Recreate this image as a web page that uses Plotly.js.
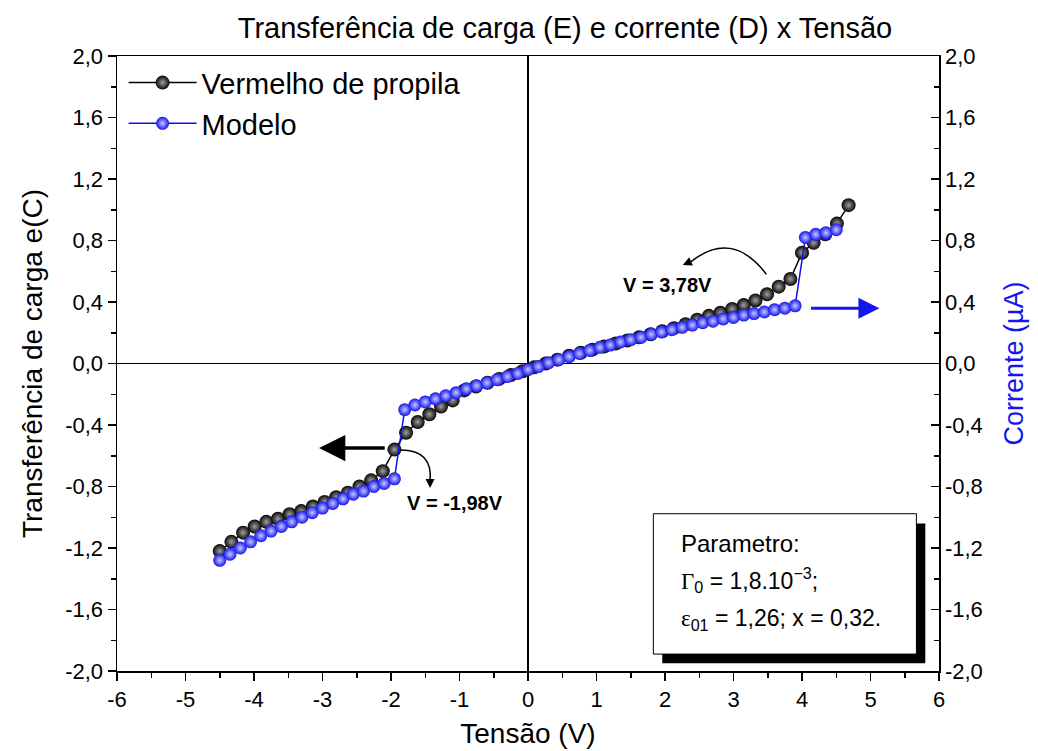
<!DOCTYPE html>
<html>
<head>
<meta charset="utf-8">
<script src="https://cdn.plot.ly/plotly-3.0.1.min.js"></script>
<style>html,body{margin:0;padding:0;background:#fff;}#chart{width:1038px;height:751px;}</style>
</head>
<body>
<div id="chart"></div>
<script>
// Experimental series: "Vermelho de propila" (left axis, e(C))
const vermelhoX = [-4.50,-4.33,-4.16,-3.99,-3.82,-3.65,-3.48,-3.31,-3.14,-2.97,-2.80,-2.63,-2.46,-2.29,-2.12,-1.95,-1.78,-1.61,-1.44,-1.27,-1.10,-0.93,-0.76,-0.59,-0.42,-0.25,-0.08,0.09,0.26,0.43,0.60,0.77,0.94,1.11,1.28,1.45,1.62,1.79,1.96,2.13,2.30,2.47,2.64,2.81,2.98,3.15,3.32,3.49,3.66,3.83,4.00,4.17,4.34,4.51,4.68];
const vermelhoY = [-1.22,-1.16,-1.10,-1.06,-1.03,-1.01,-0.98,-0.96,-0.93,-0.90,-0.87,-0.84,-0.80,-0.76,-0.70,-0.56,-0.45,-0.38,-0.33,-0.28,-0.24,-0.175,-0.15,-0.125,-0.10,-0.075,-0.05,-0.025,0.0,0.025,0.05,0.07,0.09,0.11,0.13,0.15,0.17,0.19,0.21,0.23,0.255,0.285,0.31,0.33,0.355,0.38,0.41,0.45,0.50,0.55,0.72,0.785,0.84,0.91,1.03];

// Model series: "Modelo" (right axis, corrente µA)
const modeloX = [-4.50,-4.35,-4.20,-4.05,-3.90,-3.75,-3.60,-3.45,-3.30,-3.15,-3.00,-2.85,-2.70,-2.55,-2.40,-2.25,-2.10,-1.95,-1.80,-1.65,-1.50,-1.35,-1.20,-1.05,-0.90,-0.75,-0.60,-0.45,-0.30,-0.15,0.00,0.15,0.30,0.45,0.60,0.75,0.90,1.05,1.20,1.35,1.50,1.65,1.80,1.95,2.10,2.25,2.40,2.55,2.70,2.85,3.00,3.15,3.30,3.45,3.60,3.75,3.90,4.05,4.20,4.35,4.50];
const modeloY = [-1.28,-1.24,-1.20,-1.16,-1.12,-1.09,-1.06,-1.03,-1.00,-0.97,-0.94,-0.91,-0.88,-0.85,-0.83,-0.80,-0.78,-0.75,-0.30,-0.27,-0.25,-0.23,-0.21,-0.19,-0.165,-0.145,-0.125,-0.105,-0.085,-0.065,-0.04,-0.02,0.005,0.025,0.045,0.065,0.085,0.105,0.12,0.14,0.155,0.17,0.19,0.205,0.22,0.235,0.25,0.265,0.275,0.29,0.30,0.315,0.325,0.335,0.35,0.36,0.375,0.82,0.84,0.85,0.87];

// Tick labels
const xTickVals = [-6,-5,-4,-3,-2,-1,0,1,2,3,4,5,6];
const xTickText = ["-6","-5","-4","-3","-2","-1","0","1","2","3","4","5","6"];
const yTickVals = [-2,-1.6,-1.2,-0.8,-0.4,0,0.4,0.8,1.2,1.6,2];
const yTickText = ["-2,0","-1,6","-1,2","-0,8","-0,4","0,0","0,4","0,8","1,2","1,6","2,0"];

// Texts
const titleText = "Transferência de carga (E) e corrente (D) x Tensão";
const xTitle = "Tensão (V)";
const yTitle = "Transferência de carga e(C)";
const y2Title = "Corrente (µA)";
const serie1Name = "Vermelho de propila";
const serie2Name = "Modelo";

const FONT = "Liberation Sans, Arial, sans-serif";
const BLUE = "#1515f0";

const traces = [
  {
    x: vermelhoX, y: vermelhoY, name: serie1Name, type: "scatter", mode: "lines+markers",
    line: {color: "#000", width: 1.5},
    marker: {size: 14, color: "#050505", gradient: {type: "radial", color: "#a0a0a0"}, line: {width: 0}},
    yaxis: "y"
  },
  {
    x: modeloX, y: modeloY, name: serie2Name, type: "scatter", mode: "lines+markers",
    line: {color: "#1010e8", width: 1.5},
    marker: {size: 13, color: BLUE, gradient: {type: "radial", color: "#c8c8ff"}, line: {width: 0}},
    yaxis: "y2"
  }
];

const axisCommon = {
  showline: true, linecolor: "#000", linewidth: 1.5,
  showgrid: false, zeroline: true, zerolinecolor: "#000", zerolinewidth: 1.5,
  tickfont: {family: FONT, size: 22, color: "#000"}
};

const layout = {
  width: 1038, height: 751,
  margin: {l: 117, r: 99, t: 56, b: 80},
  paper_bgcolor: "#fff", plot_bgcolor: "#fff",
  showlegend: true,
  title: {text: titleText, font: {family: FONT, size: 29, color: "#000"}, x: 0.545, xref: "paper", xanchor: "center", y: 0.963, yanchor: "middle"},
  legend: {x: 0.008, y: 0.998, xanchor: "left", yanchor: "top", bgcolor: "rgba(0,0,0,0)", borderwidth: 0,
           font: {family: FONT, size: 29, color: "#000"}, tracegroupgap: 0, itemwidth: 68},
  xaxis: Object.assign({}, axisCommon, {
    range: [-6, 6], tickmode: "array", tickvals: xTickVals, ticktext: xTickText,
    ticks: "outside", ticklen: 8, tickwidth: 1.5, tickcolor: "#000", mirror: true,
    minor: {ticks: "outside", ticklen: 5, tickwidth: 1.5, tickcolor: "#000", dtick: 0.5, tick0: -6},
    title: {text: xTitle, font: {family: FONT, size: 28, color: "#000"}, standoff: 12}
  }),
  yaxis: Object.assign({}, axisCommon, {
    range: [-2, 2], tickmode: "array", tickvals: yTickVals, ticktext: yTickText,
    ticks: "outside", ticklen: 8, tickwidth: 1.5, tickcolor: "#000", mirror: false,
    minor: {ticks: "outside", ticklen: 5, tickwidth: 1.5, tickcolor: "#000", dtick: 0.2, tick0: -2},
    title: {text: yTitle, font: {family: FONT, size: 28, color: "#000"}, standoff: 14}
  }),
  yaxis2: Object.assign({}, axisCommon, {
    overlaying: "y", side: "right", zeroline: false,
    range: [-2, 2], tickmode: "array", tickvals: yTickVals, ticktext: yTickText,
    ticks: "inside", ticklen: 8, tickwidth: 1.5, tickcolor: "#000",
    minor: {ticks: "inside", ticklen: 5, tickwidth: 1.5, tickcolor: "#000", dtick: 0.2, tick0: -2},
    title: {text: y2Title, font: {family: FONT, size: 27, color: BLUE}, standoff: 22}
  }),
  shapes: [
    // parameter box shadow and box
    {type: "rect", xref: "x", yref: "y", x0: 1.96, x1: 5.80, y0: -1.95, y1: -1.04, fillcolor: "#000", line: {width: 0}, layer: "above"},
    {type: "rect", xref: "x", yref: "y", x0: 1.83, x1: 5.67, y0: -1.89, y1: -0.977, fillcolor: "#fff", line: {color: "#000", width: 1}, layer: "above"},
    // curved arrow near V = 3,78V
    {type: "path", xref: "x", yref: "y", path: "M 3.48,0.58 Q 2.97,0.88 2.36,0.655", line: {color: "#000", width: 1.5}},
    // curved arrow near V = -1,98V
    {type: "path", xref: "x", yref: "y", path: "M -1.86,-0.563 Q -1.38,-0.563 -1.43,-0.77", line: {color: "#000", width: 1.5}}
  ],
  annotations: [
    {xref: "x", yref: "y", x: 2.03, y: 0.51, text: "<b>V = 3,78V</b>", showarrow: false,
     font: {family: FONT, size: 20, color: "#000"}},
    {xref: "x", yref: "y", x: -1.07, y: -0.905, text: "<b>V = -1,98V</b>", showarrow: false,
     font: {family: FONT, size: 20, color: "#000"}},
    // arrow heads for curved arrows
    {xref: "x", yref: "y", x: 2.26, y: 0.64, ax: 9, ay: -4, text: "", showarrow: true,
     arrowhead: 2, arrowsize: 1.2, arrowwidth: 1.5, arrowcolor: "#000"},
    {xref: "x", yref: "y", x: -1.43, y: -0.81, ax: 0, ay: -9, text: "", showarrow: true,
     arrowhead: 2, arrowsize: 1.2, arrowwidth: 1.5, arrowcolor: "#000"},
    // thick black arrow pointing left (to left axis)
    {xref: "x", yref: "y", axref: "x", ayref: "y", x: -3.05, y: -0.55, ax: -2.07, ay: -0.55, text: "", showarrow: true,
     arrowhead: 2, arrowsize: 1.5, arrowwidth: 3.5, arrowcolor: "#000"},
    // thick blue arrow pointing right (to right axis)
    {xref: "x", yref: "y", axref: "x", ayref: "y", x: 5.13, y: 0.36, ax: 4.11, ay: 0.36, text: "", showarrow: true,
     arrowhead: 2, arrowsize: 1.4, arrowwidth: 3, arrowcolor: BLUE},
    // parameter box text
    {xref: "x", yref: "y", x: 2.21, y: -1.17, xanchor: "left", text: "Parametro:", showarrow: false,
     font: {family: FONT, size: 24, color: "#000"}},
    {xref: "x", yref: "y", x: 2.21, y: -1.41, xanchor: "left",
     text: "<span style=\"font-family:'Liberation Serif',serif\">Γ</span><sub>0</sub> = 1,8.10<sup>−3</sup>;", showarrow: false,
     font: {family: FONT, size: 23, color: "#000"}},
    {xref: "x", yref: "y", x: 2.21, y: -1.665, xanchor: "left",
     text: "<span style=\"font-family:'Liberation Serif',serif\">ε</span><sub>01</sub> = 1,26; x = 0,32.", showarrow: false,
     font: {family: FONT, size: 23, color: "#000"}}
  ]
};

Plotly.newPlot("chart", traces, layout, {displayModeBar: false, staticPlot: true});
</script>
</body>
</html>
